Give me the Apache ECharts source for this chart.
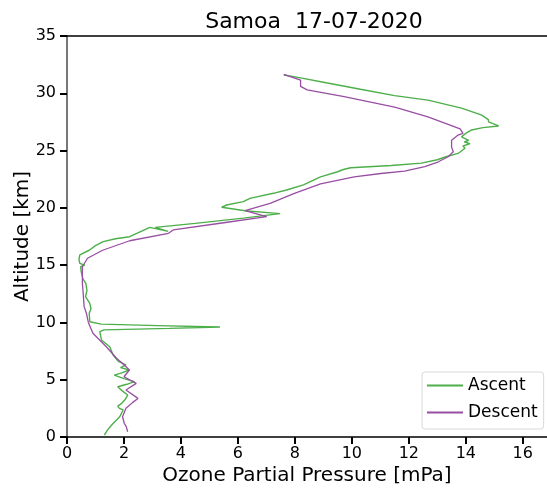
<!DOCTYPE html>
<html>
<head>
<meta charset="utf-8">
<script src="https://cdn.jsdelivr.net/npm/echarts@6/dist/echarts.min.js"></script>
<style>
html, body { margin: 0; padding: 0; background: #fff; }
#chart { width: 547px; height: 488px; }
</style>
</head>
<body>
<div id="chart"></div>
<script>
// ascent profile (ozone mPa, altitude km)
var ascentOzone = [1.31, 1.42, 1.55, 1.85, 1.97, 1.84, 1.78, 1.92, 2.05, 2.13, 1.95, 1.78, 2.1, 2.37, 2.0, 1.66, 1.92, 2.19, 1.88, 2.07,
  1.8, 1.62, 1.5, 1.21, 1.15, 1.3, 3.6, 5.37, 3.2, 1.2, 0.8, 0.78, 0.84, 0.8, 0.65, 0.7, 0.66, 0.56, 0.5, 0.48,
  0.62, 0.45, 0.42, 0.45, 0.78, 1.0, 1.27, 1.7, 2.2, 2.91, 3.55, 3.1, 4.5, 6.19, 7.48, 6.25, 5.43, 5.6, 6.19, 6.42,
  7.24, 7.71, 8.3, 8.6, 8.9, 9.5, 9.7, 9.96, 11.38, 12.44, 13.0, 13.3, 13.73, 13.97, 13.9, 14.15, 13.95, 14.1, 13.85, 14.0,
  14.2, 14.6, 15.15, 14.8, 14.79, 14.56, 13.85, 12.67, 11.5, 10.3, 9.14, 8.2, 7.61];
var ascentAlt = [0.17, 0.6, 1.0, 1.77, 2.36, 2.5, 2.7, 2.94, 3.3, 3.66, 4.0, 4.39, 4.6, 4.83, 5.1, 5.4, 5.6, 5.85, 6.05, 6.3,
  6.6, 7.16, 7.88, 8.47, 9.2, 9.35, 9.48, 9.6, 9.72, 9.85, 10.06, 10.8, 11.2, 11.67, 12.25, 12.8, 13.4, 13.8, 14.4, 14.86,
  15.0, 15.16, 15.5, 15.9, 16.3, 16.7, 17.05, 17.3, 17.48, 18.3, 17.95, 18.3, 18.65, 19.1, 19.5, 19.75, 20.05, 20.25, 20.54, 20.83,
  21.27, 21.56, 22.0, 22.35, 22.7, 23.15, 23.35, 23.5, 23.7, 23.9, 24.2, 24.46, 24.75, 25.2, 25.4, 25.6, 25.75, 25.9, 26.2, 26.5,
  26.8, 27.0, 27.15, 27.5, 27.7, 28.1, 28.7, 29.4, 29.8, 30.35, 30.9, 31.35, 31.6];

// descent profile
var descentOzone = [2.13, 2.08, 2.01, 1.95, 2.07, 2.3, 2.49, 2.07, 2.43, 2.0, 2.19, 2.0, 1.74, 1.38, 1.25, 0.91, 0.75, 0.68, 0.6, 0.56,
  0.54, 0.54, 0.56, 0.72, 1.25, 2.2, 3.56, 3.73, 5.5, 7.01, 6.25, 7.13, 7.96, 8.9, 10.08, 11.02, 11.85, 12.56, 13.02, 13.38,
  13.56, 13.5, 13.5, 13.73, 13.9, 13.8, 12.67, 11.5, 9.73, 8.43, 8.2, 8.2, 7.61];
var descentAlt = [0.46, 0.9, 1.2, 1.77, 2.5, 3.0, 3.37, 4.1, 4.68, 5.26, 5.85, 6.3, 6.87, 7.88, 8.2, 9.05, 10.0, 10.8, 11.4, 12.83,
  13.4, 14.86, 15.0, 15.6, 16.3, 17.13, 17.78, 18.07, 18.7, 19.23, 19.75, 20.4, 21.25, 22.1, 22.7, 23.0, 23.2, 23.6, 24.0, 24.46,
  24.9, 25.3, 25.9, 26.35, 26.5, 26.9, 27.95, 28.8, 29.7, 30.3, 30.6, 31.15, 31.65];

var seriesNames = ['Ascent', 'Descent'];

function pairs(xs, ys) {
  return xs.map(function (x, i) { return [x, ys[i]]; });
}

var dom = document.getElementById('chart');
var myChart = echarts.init(dom, null, { renderer: 'canvas' });
var font = 'DejaVu Sans';

var option = {
  animation: false,
  title: {
    text: 'Samoa  17-07-2020',
    left: 309, top: 6, textAlign: 'center',
    textStyle: { fontFamily: font, fontSize: 22, fontWeight: 'normal', color: '#000' }
  },
  legend: {
    orient: 'vertical',
    left: 422, top: 372,
    padding: [3, 6, 6, 5],
    itemWidth: 36, itemHeight: 2, itemGap: 6,
    icon: 'rect',
    backgroundColor: '#fff',
    borderColor: '#d8d8d8', borderWidth: 1, borderRadius: 3,
    textStyle: { fontFamily: font, fontSize: 17, color: '#000', lineHeight: 21 },
    data: seriesNames
  },
  grid: { left: 67, right: 0, top: 36, bottom: 51, outerBoundsMode: 'none', containLabel: false },
  xAxis: [{
    type: 'value', min: 0, max: 16.85, interval: 2,
    name: 'Ozone Partial Pressure [mPa]', nameLocation: 'middle', nameGap: 29,
    nameMoveOverlap: false,
    nameTextStyle: { fontFamily: font, fontSize: 20, color: '#000' },
    axisLine: { show: true, lineStyle: { color: '#000', width: 1.5 } },
    axisTick: { show: true, length: 7, lineStyle: { color: '#000', width: 2 } },
    axisLabel: { fontFamily: font, fontSize: 16, color: '#000', margin: 9, showMaxLabel: false },
    splitLine: { show: false }
  }, {
    type: 'value', position: 'top', min: 0, max: 16.85,
    axisLine: { show: true, lineStyle: { color: '#000', width: 1.5 } },
    axisTick: { show: false }, axisLabel: { show: false }, splitLine: { show: false }
  }],
  yAxis: {
    type: 'value', min: 0, max: 35, interval: 5,
    name: 'Altitude [km]', nameLocation: 'middle', nameGap: 34,
    nameMoveOverlap: false,
    nameTextStyle: { fontFamily: font, fontSize: 20, color: '#000' },
    axisLine: { show: true, lineStyle: { color: '#777', width: 2 } },
    axisTick: { show: true, length: 7, lineStyle: { color: '#000', width: 2 } },
    axisLabel: { fontFamily: font, fontSize: 16, color: '#000', margin: 11 },
    splitLine: { show: false }
  },
  series: [{
    name: seriesNames[0], type: 'line', showSymbol: false,
    data: pairs(ascentOzone, ascentAlt),
    itemStyle: { color: '#4daf4a' },
    lineStyle: { color: '#4daf4a', width: 1.4 }
  }, {
    name: seriesNames[1], type: 'line', showSymbol: false,
    data: pairs(descentOzone, descentAlt),
    itemStyle: { color: '#984ea3' },
    lineStyle: { color: '#984ea3', width: 1.3 }
  }]
};

myChart.setOption(option);
window.addEventListener('resize', myChart.resize);
</script>
</body>
</html>
